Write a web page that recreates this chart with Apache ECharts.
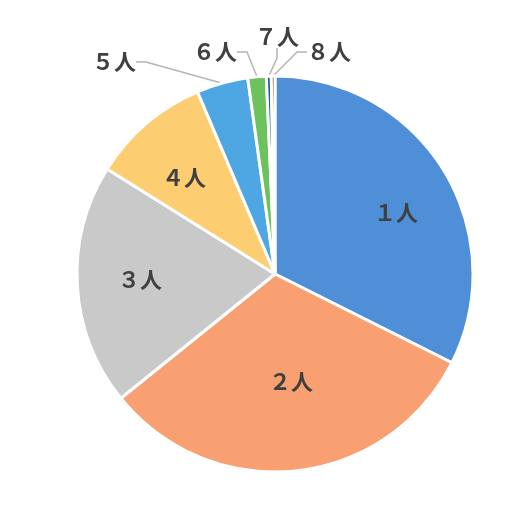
<!DOCTYPE html>
<html>
<head>
<meta charset="utf-8">
<script src="https://cdn.jsdelivr.net/npm/echarts@6/dist/echarts.min.js"></script>
<style>
  html, body { margin: 0; padding: 0; background: #ffffff; }
  #chart { width: 531px; height: 531px; }
</style>
</head>
<body>
<div id="chart"></div>
<script>
// Household size shares (percent)
const categories = ['１人', '２人', '３人', '４人', '５人', '６人', '７人', '８人'];
const shares = [32.4, 31.8, 19.7, 9.7, 4.2, 1.5, 0.4, 0.3];
const colors = ['#4e8fd8', '#f8a072', '#c9c9c9', '#fdcd72', '#4ea6e2', '#6cc25c', '#1f5e9c', '#9e4a1a'];

// label placement (pixel centres of each label)
const labelSpots = {
  0: [396, 213], 1: [291, 382], 2: [140, 280], 3: [184, 178],
  4: [114, 62], 5: [215, 52], 6: [277, 37], 7: [329, 52]
};

const chart = echarts.init(document.getElementById('chart'), null, { renderer: 'canvas' });

const data = categories.map((name, i) => ({
  name: name,
  value: shares[i],
  itemStyle: { color: colors[i] },
  label: { position: i < 4 ? 'inside' : 'outside' },
  labelLine: { show: i >= 4 }
}));

chart.setOption({
  backgroundColor: '#ffffff',
  animation: false,
  series: [{
    type: 'pie',
    center: ['275px', '274px'],
    radius: [0, 198],
    startAngle: 90,
    clockwise: true,
    avoidLabelOverlap: false,
    itemStyle: { borderColor: '#ffffff', borderWidth: 3 },
    label: {
      show: true,
      formatter: '{b}',
      color: '#404040',
      fontSize: 22,
      fontWeight: 'bold',
      fontFamily: '"Noto Sans CJK JP", sans-serif'
    },
    labelLine: {
      show: true,
      length: 10,
      length2: 10,
      lineStyle: { color: '#b5b5b5', width: 1.5 }
    },
    labelLayout: function (p) {
      const s = labelSpots[p.dataIndex];
      return { x: s[0], y: s[1], align: 'center', verticalAlign: 'middle' };
    },
    data: data
  }]
});
</script>
</body>
</html>
